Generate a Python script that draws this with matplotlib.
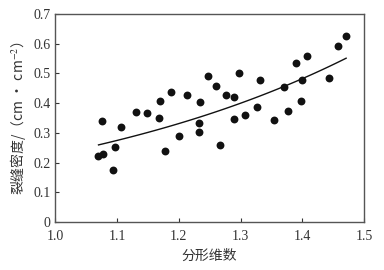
import numpy as np
import matplotlib
matplotlib.use('Agg')
import matplotlib.pyplot as plt
from matplotlib.ticker import FuncFormatter

plt.rcParams['font.family'] = ['Liberation Serif', 'Noto Sans CJK SC', 'DejaVu Sans']
plt.rcParams['mathtext.fontset'] = 'stix'

# 分形维数 / 裂缝密度
fractal_dim = [1.069, 1.078, 1.075, 1.094, 1.097, 1.106, 1.130, 1.148, 1.170, 1.168,
               1.178, 1.187, 1.214, 1.200, 1.235, 1.232, 1.232, 1.247, 1.261, 1.266,
               1.276, 1.289, 1.289, 1.297, 1.307, 1.327, 1.331, 1.354, 1.370, 1.377,
               1.390, 1.398, 1.400, 1.408, 1.444, 1.458, 1.470]
crack_density = [0.222, 0.229, 0.340, 0.175, 0.252, 0.321, 0.369, 0.366, 0.406, 0.351,
                 0.240, 0.439, 0.429, 0.290, 0.403, 0.333, 0.302, 0.493, 0.457, 0.259,
                 0.429, 0.421, 0.347, 0.501, 0.361, 0.386, 0.478, 0.343, 0.456, 0.374,
                 0.534, 0.407, 0.478, 0.560, 0.484, 0.593, 0.627]

# 指数拟合 y = a * exp(b * x)
fit_a = 0.0347
fit_b = 1.88
fit_range = (1.070, 1.471)

fig = plt.figure(figsize=(3.84, 2.70), dpi=100)
ax = fig.add_axes([0.144, 0.178, 0.804, 0.770])

ax.scatter(fractal_dim, crack_density, s=32, color='#111111', zorder=3, linewidths=0)
xs = np.linspace(fit_range[0], fit_range[1], 100)
ax.plot(xs, fit_a * np.exp(fit_b * xs), color='#111111', lw=1.0)

ax.set_xlim(1.0, 1.5)
ax.set_ylim(0, 0.7)
ax.set_xticks([1.0, 1.1, 1.2, 1.3, 1.4, 1.5])
ax.set_yticks([0, 0.1, 0.2, 0.3, 0.4, 0.5, 0.6, 0.7])
ax.yaxis.set_major_formatter(FuncFormatter(lambda v, p: '0' if v == 0 else f'{v:.1f}'))
ax.tick_params(direction='in', length=3, width=0.8, labelsize=10, colors='#333333')
ax.tick_params(axis='x', pad=6)
for sp in ax.spines.values():
    sp.set_color('#555555')
    sp.set_linewidth(1.0)

ax.set_xlabel('分形维数', fontsize=10, color='#333333',
              family=['Noto Sans CJK SC', 'DejaVu Sans'], labelpad=4)
ax.set_ylabel('裂缝密度/（cm · cm$^{-2}$）', fontsize=10, color='#333333',
              family=['Noto Sans CJK SC', 'DejaVu Sans'], labelpad=4)

fig.savefig('out.png', dpi=100)
